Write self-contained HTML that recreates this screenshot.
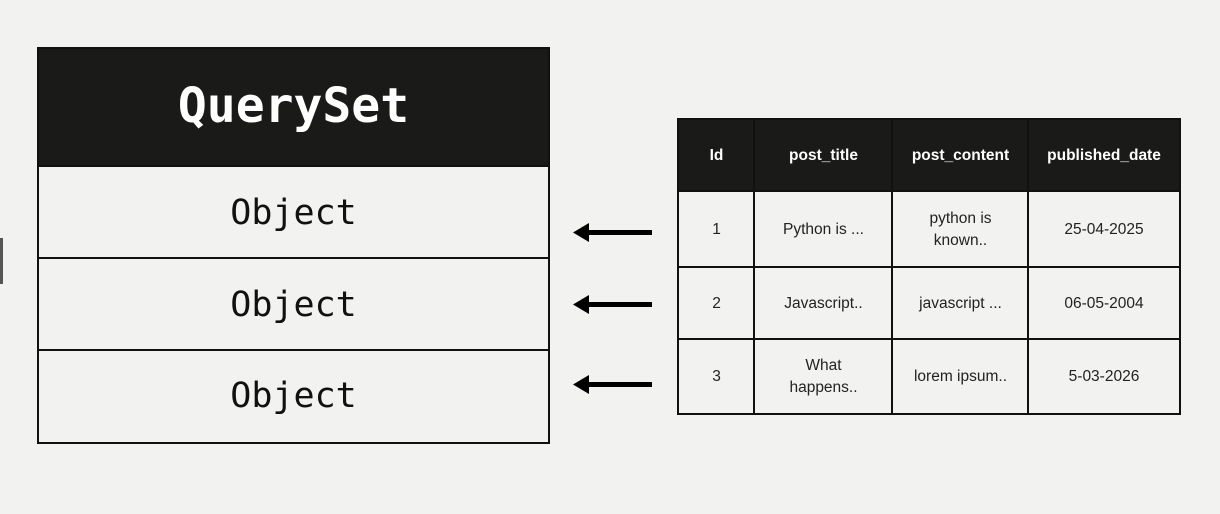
<!DOCTYPE html>
<html><head><meta charset="utf-8"><style>
body{margin:0;width:1220px;height:514px;background:#f2f2f0;position:relative;overflow:hidden;font-family:"Liberation Sans",sans-serif}
.a{position:absolute;box-sizing:border-box}
.qs{left:37px;top:47px;width:513px;height:397px;border:2.5px solid #111;background:#f2f2f0}
.qh{left:0;top:0;width:100%;height:118px;background:#1a1a18;color:#fff;font-family:"DejaVu Sans Mono","Liberation Mono",monospace;font-weight:bold;font-size:48px;display:flex;align-items:center;justify-content:center;padding-bottom:4px}
.ob{left:0;width:100%;height:93px;display:flex;align-items:center;justify-content:center;font-family:"DejaVu Sans Mono","Liberation Mono",monospace;font-size:35px;color:#111;border-top:2.5px solid #111}
.c{position:absolute;box-sizing:border-box;border:2.5px solid #111;display:flex;align-items:center;justify-content:center;text-align:center;font-size:15.5px;line-height:22px;color:#222;background:#f2f2f0}
.h{background:#1a1a18;color:#fff;font-weight:bold}
</style></head><body>
<div class="a" style="left:0;top:238px;width:3px;height:46px;background:#555"></div>
<div class="a qs">
<div class="a qh">QuerySet</div>
<div class="a ob" style="top:116px">Object</div>
<div class="a ob" style="top:208px">Object</div>
<div class="a ob" style="top:300px;height:92px">Object</div>
</div>
<svg class="a" style="left:0;top:0" width="1220" height="514">
<g fill="#000">
<rect x="584" y="230" width="68" height="5"/><polygon points="573,232.5 589,223 589,242"/>
<rect x="584" y="302" width="68" height="5"/><polygon points="573,304.5 589,295 589,314"/>
<rect x="584" y="382" width="68" height="5"/><polygon points="573,384.5 589,375 589,394"/>
</g></svg>
<!-- header -->
<div class="c h" style="left:677px;top:118px;width:79px;height:75px">Id</div>
<div class="c h" style="left:753px;top:118px;width:141px;height:75px">post_title</div>
<div class="c h" style="left:891px;top:118px;width:139px;height:75px">post_content</div>
<div class="c h" style="left:1027px;top:118px;width:154px;height:75px">published_date</div>
<!-- row1 -->
<div class="c" style="left:677px;top:190px;width:79px;height:79px">1</div>
<div class="c" style="left:753px;top:190px;width:141px;height:79px">Python is ...</div>
<div class="c" style="left:891px;top:190px;width:139px;height:79px">python is<br>known..</div>
<div class="c" style="left:1027px;top:190px;width:154px;height:79px">25-04-2025</div>
<!-- row2 -->
<div class="c" style="left:677px;top:266px;width:79px;height:75px">2</div>
<div class="c" style="left:753px;top:266px;width:141px;height:75px">Javascript..</div>
<div class="c" style="left:891px;top:266px;width:139px;height:75px">javascript ...</div>
<div class="c" style="left:1027px;top:266px;width:154px;height:75px">06-05-2004</div>
<!-- row3 -->
<div class="c" style="left:677px;top:338px;width:79px;height:77px">3</div>
<div class="c" style="left:753px;top:338px;width:141px;height:77px">What<br>happens..</div>
<div class="c" style="left:891px;top:338px;width:139px;height:77px">lorem ipsum..</div>
<div class="c" style="left:1027px;top:338px;width:154px;height:77px">5-03-2026</div>
</body></html>
